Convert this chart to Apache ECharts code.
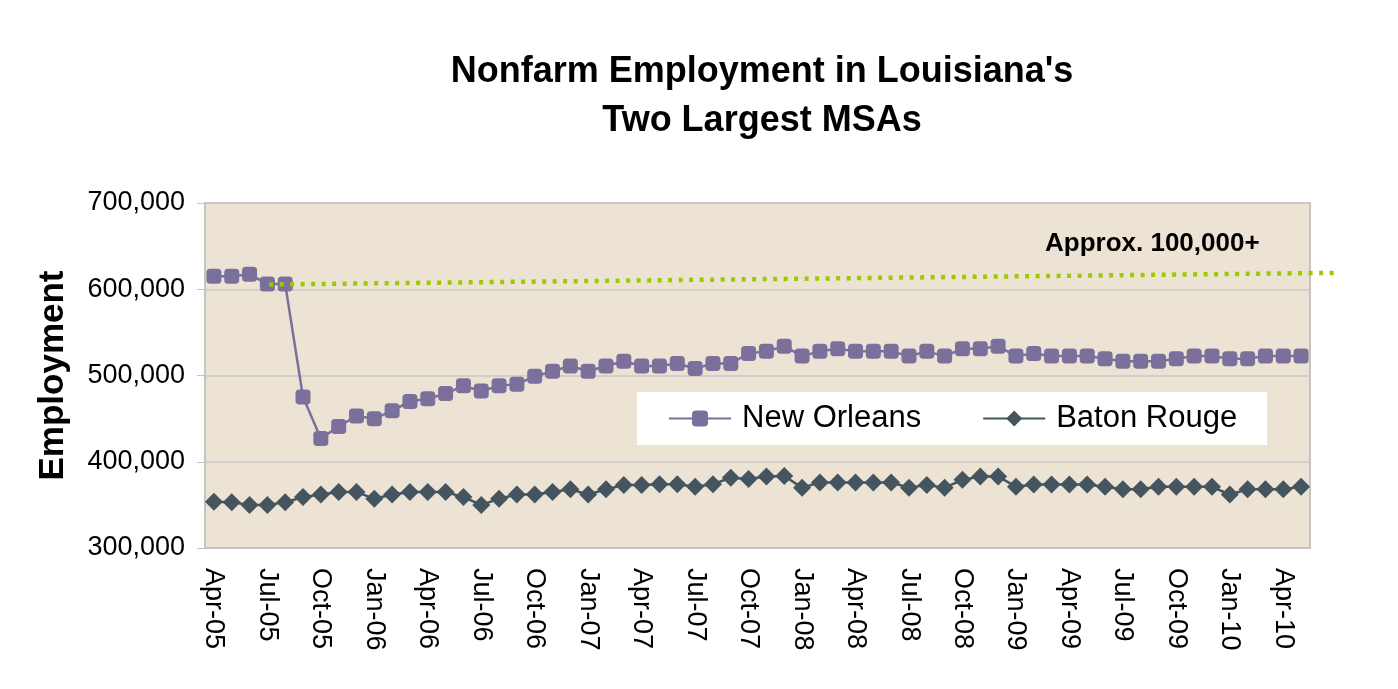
<!DOCTYPE html>
<html>
<head>
<meta charset="utf-8">
<title>Nonfarm Employment in Louisiana's Two Largest MSAs</title>
<script src="https://cdn.jsdelivr.net/npm/echarts@6/dist/echarts.min.js"></script>
<style>
    html, body { margin: 0; padding: 0; background: #fff; }
    #eCharts { width: 1398px; height: 689px; }
</style>
</head>
<body>
<div id="eCharts"></div>
<script>
// months, Apr-05 .. May-10
var months = [
    'Apr-05', 'May-05', 'Jun-05', 'Jul-05', 'Aug-05', 'Sep-05', 'Oct-05', 'Nov-05', 'Dec-05',
    'Jan-06', 'Feb-06', 'Mar-06', 'Apr-06', 'May-06', 'Jun-06', 'Jul-06', 'Aug-06', 'Sep-06', 'Oct-06', 'Nov-06', 'Dec-06',
    'Jan-07', 'Feb-07', 'Mar-07', 'Apr-07', 'May-07', 'Jun-07', 'Jul-07', 'Aug-07', 'Sep-07', 'Oct-07', 'Nov-07', 'Dec-07',
    'Jan-08', 'Feb-08', 'Mar-08', 'Apr-08', 'May-08', 'Jun-08', 'Jul-08', 'Aug-08', 'Sep-08', 'Oct-08', 'Nov-08', 'Dec-08',
    'Jan-09', 'Feb-09', 'Mar-09', 'Apr-09', 'May-09', 'Jun-09', 'Jul-09', 'Aug-09', 'Sep-09', 'Oct-09', 'Nov-09', 'Dec-09',
    'Jan-10', 'Feb-10', 'Mar-10', 'Apr-10', 'May-10'
];

var newOrleans = [
    615000, 615000, 617500, 606000, 606000, 475000, 427000, 441000, 453000,
    450000, 459000, 470000, 473000, 479000, 488000, 482000, 488000, 490000, 499000, 505000, 511000,
    505000, 511000, 516500, 511000, 511000, 514000, 508000, 514000, 514000, 525500, 528000, 534000,
    522500, 528000, 531000, 528000, 528000, 528000, 522500, 528000, 522500, 531000, 531000, 534000,
    522500, 525500, 522500, 522500, 522500, 519500, 516500, 516500, 516500, 519500, 522500, 522500,
    519500, 519500, 522500, 522500, 522500
];

var batonRouge = [
    353500, 353000, 350000, 350000, 353000, 359000, 362000, 365000, 365000,
    357000, 362000, 365000, 365000, 365000, 359000, 350000, 357000, 362000, 362000, 365000, 368000,
    362000, 368000, 373000, 373000, 374000, 374000, 371000, 374000, 381500, 380000, 383000, 383500,
    370000, 376000, 376000, 376000, 376000, 376000, 370000, 373000, 370000, 379000, 383000, 383000,
    371000, 373500, 373500, 373500, 373500, 371000, 368000, 368000, 371000, 371000, 371000, 371000,
    362000, 368000, 368000, 368000, 371000
];

// dotted trend line (month index, value), runs a little past the plot
var trendLine = [[3.1, 605500], [62.9, 619000]];

var yTicks = [300000, 400000, 500000, 600000, 700000];

var plotLeft = 205, plotTop = 203, plotW = 1105, plotH = 345;
var band = plotW / months.length;
// second, wider grid for the trend line so it can run past the plot edge
var wideW = 1140;

var myChart = echarts.init(document.getElementById('eCharts'));

var option = {
    backgroundColor: '#fff',
    animation: false,
    textStyle: { fontFamily: 'Liberation Sans, Arial, sans-serif', color: '#000' },
    title: {
        text: "Nonfarm Employment in Louisiana's\nTwo Largest MSAs",
        left: 757,
        textAlign: 'center',
        top: 43,
        textStyle: { fontSize: 36, fontWeight: 'bold', lineHeight: 49, color: '#000' }
    },
    legend: {
        data: ['New Orleans', 'Baton Rouge'],
        left: 637,
        top: 392,
        backgroundColor: '#fff',
        padding: [11, 30, 11, 31],
        itemWidth: 62,
        itemHeight: 20,
        itemGap: 61,
        textStyle: { fontSize: 31, color: '#000', padding: [0, 0, 0, 6] }
    },
    grid: [{
        left: plotLeft,
        top: plotTop,
        width: plotW,
        height: plotH,
        show: true,
        backgroundColor: '#ece3d4',
        borderColor: '#c4c4c4',
        borderWidth: 2
    }, {
        left: plotLeft,
        top: plotTop,
        width: wideW,
        height: plotH,
        show: false
    }],
    xAxis: [{
        type: 'category',
        data: months,
        boundaryGap: true,
        axisLine: { lineStyle: { color: '#c4c4c4', width: 2 } },
        axisTick: { interval: 2, length: 8, lineStyle: { color: '#c4c4c4' } },
        axisLabel: { interval: 2, rotate: -90, fontSize: 27, margin: 20, color: '#000' }
    }, {
        type: 'value',
        gridIndex: 1,
        min: -0.5,
        max: -0.5 + wideW / band,
        show: false
    }],
    yAxis: [{
        type: 'value',
        min: yTicks[0],
        max: yTicks[yTicks.length - 1],
        interval: 100000,
        name: 'Employment',
        nameLocation: 'middle',
        nameGap: 134,
        nameTextStyle: { fontSize: 35, fontWeight: 'bold', color: '#000' },
        axisLine: { show: true, onZero: false, lineStyle: { color: '#c4c4c4', width: 2 } },
        axisTick: { show: true, length: 8, lineStyle: { color: '#c4c4c4' } },
        axisLabel: {
            fontSize: 27,
            margin: 20,
            color: '#000',
            formatter: function (v) { return v.toLocaleString('en-US'); }
        },
        splitLine: { lineStyle: { color: '#c8c8c8', width: 1.5 } }
    }, {
        type: 'value',
        gridIndex: 1,
        min: yTicks[0],
        max: yTicks[yTicks.length - 1],
        show: false
    }],
    series: [{
        name: 'New Orleans',
        type: 'line',
        data: newOrleans,
        symbol: 'roundRect',
        symbolSize: 15,
        showAllSymbol: true,
        itemStyle: { color: '#7b6f9c' },
        lineStyle: { color: '#7b6f9c', width: 2.5 },
        z: 3
    }, {
        name: 'Baton Rouge',
        type: 'line',
        data: batonRouge,
        symbol: 'diamond',
        symbolSize: 18,
        showAllSymbol: true,
        itemStyle: { color: '#44555f' },
        lineStyle: { color: '#44555f', width: 2.5 },
        z: 3
    }, {
        name: 'trend',
        type: 'line',
        xAxisIndex: 1,
        yAxisIndex: 1,
        data: trendLine,
        symbol: 'none',
        silent: true,
        lineStyle: { color: '#99cc00', width: 4.5, type: [4, 6.5], cap: 'butt' },
        z: 4
    }],
    graphic: [{
        type: 'text',
        left: 1045,
        top: 231,
        style: { text: 'Approx. 100,000+', font: 'bold 26px Liberation Sans, Arial, sans-serif', fill: '#000' }
    }]
};

myChart.setOption(option);
</script>
</body>
</html>
